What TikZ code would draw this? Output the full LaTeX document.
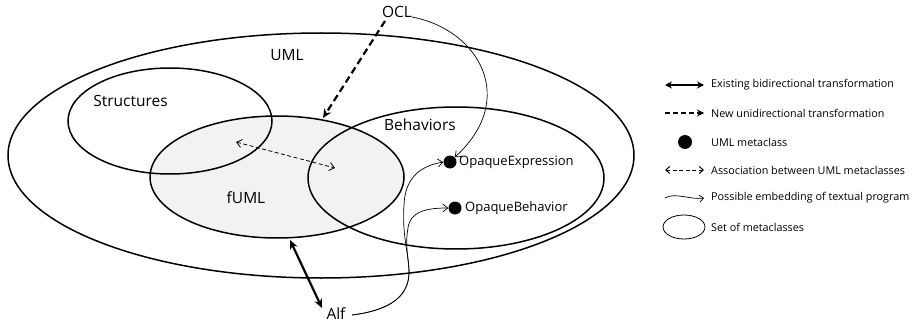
\documentclass[tikz,border=0pt]{standalone}
\usepackage{fontspec}
\setmainfont{Open Sans}
\usetikzlibrary{shapes.geometric,arrows.meta}
\begin{document}
\begin{tikzpicture}[x=1pt,y=-1pt,
  setbox/.style={draw=black,line width=1.5pt,ellipse,inner sep=0pt},
  lbl/.style={font=\fontsize{15.5}{18}\selectfont,inner sep=0pt},
  mlbl/.style={font=\fontsize{13}{15}\selectfont,inner sep=0pt,anchor=west},
  leg/.style={font=\fontsize{10.8}{13}\selectfont,inner sep=0pt,anchor=west},
  metadot/.style={circle,fill=black,inner sep=0pt,minimum size=13pt},
  bidir/.style={line width=2.2pt,{Stealth[length=9pt,width=8pt]}-{Stealth[length=9pt,width=8pt]}},
  newtr/.style={line width=2.2pt,dash pattern=on 7pt off 4pt,-{Stealth[length=9pt,width=8pt]}},
  assoc/.style={line width=0.8pt,dash pattern=on 4pt off 2.5pt,{Straight Barb[length=5pt,width=8pt]}-{Straight Barb[length=5pt,width=8pt]}},
  embed/.style={line width=0.7pt,-{Straight Barb[length=5pt,width=8pt]}}]
\useasboundingbox (0,0) rectangle (919,329);
\fill[white] (0,0) rectangle (919,329);
% sets
\node[setbox,minimum width=626pt,minimum height=245pt] (uml) at (321,155.5) {};
\node[setbox,fill=black!5,minimum width=254pt,minimum height=122pt] (fuml) at (277,177) {};
\node[setbox,minimum width=204pt,minimum height=106pt] (struct) at (170,121) {};
\node[setbox,minimum width=296pt,minimum height=142pt] (behav) at (456,178) {};
% labels
\node[lbl] (umlL) at (287,55) {UML};
\node[lbl] (structL) at (130.5,101) {Structures};
\node[lbl] (behavL) at (420,125) {Behaviors};
\node[lbl] (fumlL) at (246,198) {fUML};
\node[lbl] (ocl) at (397,12) {OCL};
\node[lbl] (alf) at (336,314) {Alf};
% metaclasses
\node[metadot] (oe) at (450,162) {};
\node[mlbl] (oeL) at (459,162) {OpaqueExpression};
\node[metadot] (ob) at (455,208) {};
\node[mlbl] (obL) at (465,208) {OpaqueBehavior};
% connectors
\coordinate (fumlTop) at (323,118);
\coordinate (fumlBot) at (290,240);
\coordinate (assocA) at (236,142);
\coordinate (assocB) at (335,168);
\coordinate (oclEnd) at (412,17);
\coordinate (alfEnd) at (352,315);
\coordinate (oclStart) at (385,21);
\coordinate (alfTop) at (322,308);
\draw[newtr] (oclStart) -- (fumlTop);
\draw[bidir] (fumlBot) -- (alfTop);
\draw[assoc] (assocA) -- (assocB);
\draw[embed] (oclEnd) .. controls (480,30) and (518,100) .. (oe.north east);
\draw[embed] (alfEnd) .. controls (392,310) and (410,295) .. (409,270) .. controls (408,250) and (402,235) .. (404,205) .. controls (405,178) and (420,166) .. (oe.west);
\draw[embed] (alfEnd) .. controls (392,310) and (410,295) .. (409,270) .. controls (408,255) and (405,245) .. (408,228) .. controls (410,212) and (425,208) .. (ob.west);
% legend
\coordinate (l1a) at (665,85); \coordinate (l1b) at (704,85);
\coordinate (l2a) at (665,113); \coordinate (l2b) at (704,113);
\coordinate (l4a) at (665,170); \coordinate (l4b) at (704,170);
\coordinate (l5a) at (665,198); \coordinate (l5b) at (704,198);
\draw[line width=1.6pt,{Stealth[length=7pt,width=7pt]}-{Stealth[length=7pt,width=7pt]}] (l1a) -- (l1b);
\node[leg] (t1) at (711,85) {Existing bidirectional transformation};
\draw[line width=1.6pt,dash pattern=on 5pt off 3pt,-{Stealth[length=7pt,width=7pt]}] (l2a) -- (l2b);
\node[leg] (t2) at (711,113) {New unidirectional transformation};
\node[metadot,minimum size=14pt] (ld) at (685,142) {};
\node[leg] (t3) at (711,142) {UML metaclass};
\draw[line width=1pt,dash pattern=on 4pt off 2.5pt,{Straight Barb[length=4pt,width=7pt]}-{Straight Barb[length=4pt,width=7pt]}] (l4a) -- (l4b);
\node[leg] (t4) at (711,170) {Association between UML metaclasses};
\draw[line width=0.7pt,-{Straight Barb[length=4pt,width=7pt]}] (l5a) .. controls (675,192) and (690,200) .. (l5b);
\node[leg] (t5) at (711,198) {Possible embedding of textual program};
\node[draw,line width=0.8pt,ellipse,inner sep=0pt,minimum width=42pt,minimum height=24pt] (le) at (684,227) {};
\node[leg] (t6) at (711,227) {Set of metaclasses};
\end{tikzpicture}
\end{document}
